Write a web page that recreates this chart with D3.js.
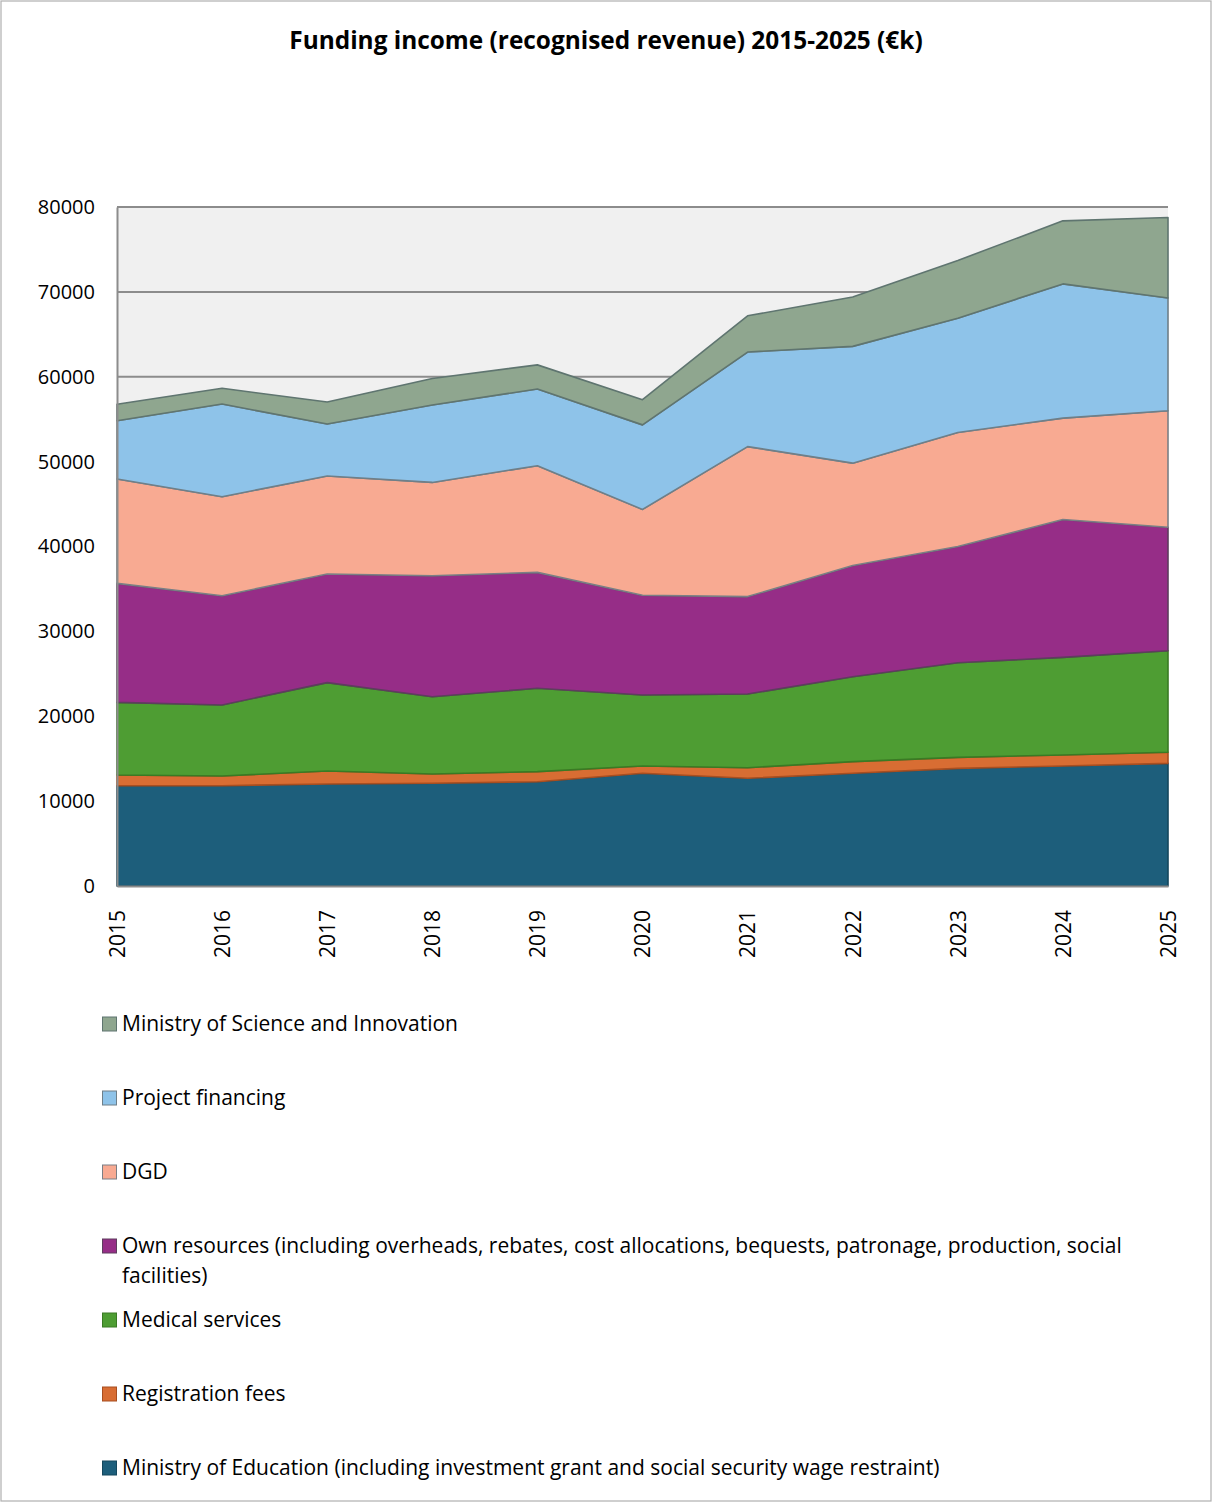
<!DOCTYPE html>
<html>
<head>
<meta charset="utf-8">
<script src="https://cdn.jsdelivr.net/npm/d3@7"></script>
<style>
  body { margin: 0; background: #fff; }
  svg { font-family: "Open Sans", "DejaVu Sans", sans-serif; }
</style>
</head>
<body>
<div class="chart_area"></div>
<script>
// years on the x axis
var years = [2015, 2016, 2017, 2018, 2019, 2020, 2021, 2022, 2023, 2024, 2025];

// series values (k EUR), bottom to top
var education   = [11820, 11820, 12020, 12100, 12290, 13280, 12690, 13280, 13860, 14140, 14450];
var registration = [1260, 1140, 1530, 1100, 1180, 860, 1250, 1370, 1300, 1290, 1300];
var medical     = [8560, 8370, 10410, 9100, 9820, 8360, 8680, 10010, 11150, 11510, 11970];
var ownRes      = [14020, 12870, 12800, 14260, 13660, 11750, 11480, 13100, 13680, 16240, 14550];
var dgd         = [12290, 11670, 11550, 10990, 12570, 10120, 17670, 12060, 13440, 11950, 13730];
var projects    = [6870, 10920, 6120, 9120, 9040, 9960, 11140, 13760, 13470, 15810, 13270];
var science     = [1930, 1850, 2590, 3130, 2840, 2970, 4270, 5810, 6800, 7430, 9500];

var yTicks = [0, 10000, 20000, 30000, 40000, 50000, 60000, 70000, 80000];

var seriesNames = [
  "Ministry of Education (including investment grant and social security wage restraint)",
  "Registration fees",
  "Medical services",
  "Own resources (including overheads, rebates, cost allocations, bequests, patronage, production, social facilities)",
  "DGD",
  "Project financing",
  "Ministry of Science and Innovation"
];
var seriesValues = [education, registration, medical, ownRes, dgd, projects, science];
var fills   = ["#1d5e7b", "#d86d33", "#4e9d33", "#962d87", "#f8aa92", "#8ec3e9", "#8fa68f"];
var strokes = ["#15475d", "#a84e20", "#3a7a24", "#5e3d5e", "#7a7f85", "#6f7f88", "#5f7570"];

var W = 1212, H = 1502;
var margin = {top: 207, right: 44, bottom: 616, left: 117};
var w = W - margin.left - margin.right,
    h = H - margin.top - margin.bottom;

// build rows for d3.stack
var rows = years.map(function(y, i) {
  var r = {year: y};
  seriesNames.forEach(function(n, k) { r[n] = seriesValues[k][i]; });
  return r;
});
var stacked = d3.stack().keys(seriesNames)(rows);

var x = d3.scaleLinear().domain([2015, 2025]).range([0, w]);
var y = d3.scaleLinear().domain([0, 80000]).range([h, 0]);

var svg = d3.select('.chart_area').append("svg")
  .attr("width", W)
  .attr("height", H);

// outer frame
svg.append("rect")
  .attr("x", 1).attr("y", 1)
  .attr("width", W - 2).attr("height", H - 2)
  .attr("fill", "#fff")
  .attr("stroke", "#b0b0b0")
  .attr("stroke-width", 1.2);

svg.append("text")
  .attr("x", 606).attr("y", 49)
  .attr("text-anchor", "middle")
  .attr("font-size", "24.4px")
  .attr("font-weight", "bold")
  .attr("fill", "#000")
  .text("Funding income (recognised revenue) 2015-2025 (€k)");

var g = svg.append("g")
  .attr("transform", "translate(" + margin.left + "," + margin.top + ")");

// plot background
g.append("rect")
  .attr("width", w).attr("height", h)
  .attr("fill", "#f0f0f0");

// gridlines
g.selectAll(".grid").data(yTicks.slice(1)).enter().append("line")
  .attr("x1", 0).attr("x2", w)
  .attr("y1", function(d) { return y(d); })
  .attr("y2", function(d) { return y(d); })
  .attr("stroke", "#8c8c8c")
  .attr("stroke-width", 2);

var area = d3.area()
  .x(function(d) { return x(d.data.year); })
  .y0(function(d) { return y(d[0]); })
  .y1(function(d) { return y(d[1]); });

g.selectAll(".layer").data(stacked).enter().append("path")
  .attr("class", "layer")
  .attr("d", area)
  .attr("fill", function(d, i) { return fills[i]; })
  .attr("stroke", function(d, i) { return strokes[i]; })
  .attr("stroke-width", 1.6)
  .attr("stroke-linejoin", "round");

// axes
var yAxis = g.append("g")
  .call(d3.axisLeft(y).tickValues(yTicks).tickFormat(d3.format("d")).tickSize(0).tickPadding(22));
yAxis.select(".domain").attr("stroke", "#8c8c8c").attr("stroke-width", 2);
yAxis.selectAll("text").attr("font-size", "20px").attr("fill", "#000")
  .attr("font-family", "Open Sans, sans-serif");

var xAxis = g.append("g")
  .attr("transform", "translate(0," + h + ")")
  .call(d3.axisBottom(x).tickValues(years).tickFormat(d3.format("d")).tickSize(0));
xAxis.select(".domain").attr("stroke", "#8c8c8c").attr("stroke-width", 2);
xAxis.selectAll("text")
  .attr("font-size", "21px").attr("fill", "#000")
  .attr("font-family", "Open Sans, sans-serif")
  .attr("text-anchor", "end")
  .attr("dy", "0.35em")
  .attr("transform", "translate(0,24) rotate(-90)")
  .attr("x", 0).attr("y", 0);

// legend, top series first
var legendOrder = [6, 5, 4, 3, 2, 1, 0];
var legendY = [1024, 1098, 1172, 1246, 1320, 1394, 1468];
var legend = svg.append("g");
legendOrder.forEach(function(k, i) {
  var row = legend.append("g").attr("transform", "translate(102," + legendY[i] + ")");
  row.append("rect")
    .attr("x", 0.5).attr("y", -7)
    .attr("width", 14).attr("height", 14)
    .attr("fill", fills[k])
    .attr("stroke", strokes[k]).attr("stroke-width", 1);
  var t = row.append("text")
    .attr("x", 20).attr("y", 0).attr("dy", "0.35em")
    .attr("font-size", "21px").attr("fill", "#000");
  // wrap to width
  var words = seriesNames[k].split(" "), line = [];
  var tspan = t.append("tspan").attr("x", 20);
  words.forEach(function(wd) {
    line.push(wd);
    tspan.text(line.join(" "));
    if (tspan.node().getComputedTextLength() > 1010) {
      line.pop();
      tspan.text(line.join(" "));
      line = [wd];
      tspan = t.append("tspan").attr("x", 20).attr("dy", "30px").text(wd);
    }
  });
});
</script>
</body>
</html>
